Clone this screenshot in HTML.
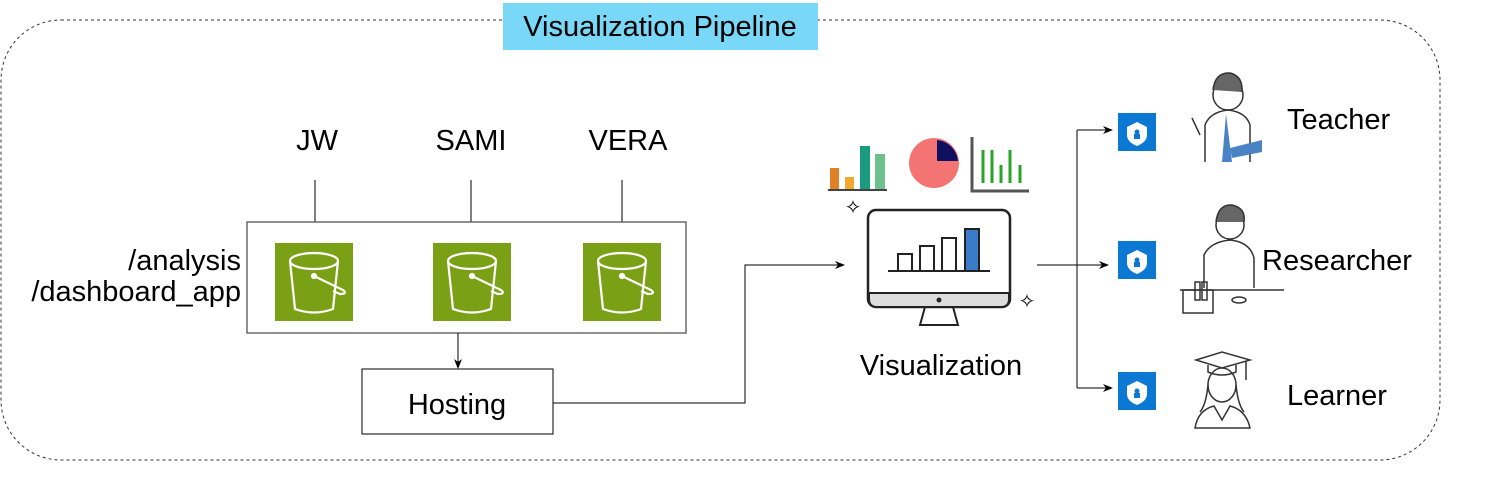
<!DOCTYPE html>
<html><head><meta charset="utf-8"><style>
body{margin:0;width:1506px;height:488px;background:#fff;overflow:hidden;font-family:"Liberation Sans",sans-serif}
</style></head><body>
<svg width="1506" height="488" viewBox="0 0 1506 488" xmlns="http://www.w3.org/2000/svg" font-family="Liberation Sans, sans-serif">
<defs><marker id="a" markerWidth="10" markerHeight="8" refX="9" refY="4" orient="auto" markerUnits="userSpaceOnUse"><path d="M0,0 L10,4 L0,8 L3,4Z" fill="#000"/></marker></defs>
<rect x="1" y="20" width="1439" height="440" rx="60" fill="none" stroke="#333" stroke-dasharray="3,3"/>
<rect x="503" y="3" width="315" height="47" fill="#79d8f8"/>
<text x="660" y="36" font-size="29" text-anchor="middle">Visualization Pipeline</text>
<g font-size="29" text-anchor="middle"><text x="317" y="150">JW</text><text x="471" y="150">SAMI</text><text x="628" y="150">VERA</text></g>
<g stroke="#000" fill="none"><line x1="315" y1="180" x2="315" y2="222"/><line x1="471" y1="180" x2="471" y2="222"/><line x1="622" y1="180" x2="622" y2="222"/></g>
<rect x="247" y="222" width="439" height="111" fill="#fff" stroke="#555" stroke-width="1.3"/>
<g font-size="29" text-anchor="end"><text x="241" y="270">/analysis</text><text x="241" y="301">/dashboard_app</text></g>
<g id="b"><rect x="275" y="243" width="78" height="78" fill="#7aa116"/><g stroke="#fff" stroke-width="2.2" fill="none"><ellipse cx="314" cy="261" rx="24" ry="8"/><path d="M290 261 L295 309 Q314 316 333 309 L338 261"/><path d="M314 276 L343 290 Q348 294 340 294 L333 291"/><circle cx="314" cy="276" r="2" fill="#fff"/></g></g>
<use href="#b" x="158"/><use href="#b" x="308"/>
<line x1="458" y1="333" x2="458" y2="368" stroke="#000" marker-end="url(#a)"/>
<rect x="362" y="369" width="191" height="65" fill="#fff" stroke="#000"/>
<text x="457" y="414" font-size="29" text-anchor="middle">Hosting</text>
<path d="M553 403 H745 V265 H844" fill="none" stroke="#000" marker-end="url(#a)"/>
<rect x="830" y="168" width="9" height="22" fill="#e0812a"/><rect x="845" y="177" width="9" height="13" fill="#f0a82e"/><rect x="860" y="146" width="10" height="44" fill="#1a9a7f"/><rect x="875" y="154" width="10" height="36" fill="#6ec18c"/><line x1="828" y1="190" x2="887" y2="190" stroke="#444" stroke-width="2"/>
<circle cx="934" cy="163" r="25" fill="#f47473"/><path d="M937 140 A23 23 0 0 1 958 161 L937 161Z" fill="#101060"/>
<path d="M972 137 V191 H1029" fill="none" stroke="#555" stroke-width="3"/>
<g stroke="#2aa52a" stroke-width="3"><line x1="983" y1="150" x2="983" y2="183"/><line x1="992" y1="150" x2="992" y2="183"/><line x1="1001" y1="165" x2="1001" y2="183"/><line x1="1010" y1="150" x2="1010" y2="183"/><line x1="1020" y1="165" x2="1020" y2="183"/></g>
<text x="853" y="214" font-size="20" text-anchor="middle">✧</text><text x="1027" y="308" font-size="20" text-anchor="middle">✧</text>
<rect x="868" y="210" width="142" height="97" rx="8" fill="#fff" stroke="#222" stroke-width="2.5"/>
<path d="M869 293 H1009 V299 Q1009 307 1001 307 H877 Q869 307 869 299Z" fill="#ddd" stroke="#222" stroke-width="2"/>
<circle cx="939" cy="300" r="2.5" fill="#222"/>
<path d="M925 307 L920 325 H958 L953 307" fill="none" stroke="#222" stroke-width="2"/>
<g fill="#fff" stroke="#222" stroke-width="2"><rect x="898" y="254" width="14" height="17"/><rect x="920" y="246" width="14" height="25"/><rect x="942" y="238" width="14" height="33"/><rect x="965" y="229" width="14" height="42" fill="#3a7cc8"/></g>
<line x1="888" y1="271" x2="990" y2="271" stroke="#222" stroke-width="2"/>
<text x="941" y="375" font-size="29" text-anchor="middle">Visualization</text>
<path d="M1037 265 H1077" stroke="#000"/><path d="M1077 130 V388" stroke="#000"/>
<g stroke="#000" fill="none"><line x1="1077" y1="130" x2="1112" y2="130" marker-end="url(#a)"/><line x1="1077" y1="265" x2="1108" y2="265" marker-end="url(#a)"/><line x1="1077" y1="388" x2="1112" y2="388" marker-end="url(#a)"/></g>
<g id="l"><rect x="1118" y="113" width="38" height="38" fill="#0b78d4"/><path d="M1137 122 L1147 127 V135 Q1147 142 1137 146 Q1127 142 1127 135 V127Z" fill="#fff"/><circle cx="1137" cy="132" r="2.5" fill="#0b78d4"/><rect x="1134" y="134" width="6" height="5" fill="#0b78d4"/></g>
<use href="#l" y="128"/><use href="#l" y="259"/>
<g fill="none" stroke="#333" stroke-width="1.5">
<circle cx="1228" cy="95" r="15" fill="#fff"/><path d="M1213 90 Q1215 72 1230 73 Q1243 76 1242 92" fill="#666"/>
<path d="M1205 162 V125 Q1210 112 1228 110 Q1246 112 1250 125 V162"/><path d="M1200 135 L1192 118"/>
</g>
<path d="M1226 114 L1222 162 H1232 Z" fill="#4a83c4"/><path d="M1230 148 L1262 140 L1262 152 L1232 158Z" fill="#4a83c4"/>
<g fill="none" stroke="#333" stroke-width="1.5">
<circle cx="1230" cy="225" r="14" fill="#fff"/><path d="M1216 222 Q1218 204 1232 205 Q1246 208 1244 222" fill="#666"/>
<path d="M1204 288 V255 Q1210 242 1230 240 Q1250 242 1254 258 V288"/><line x1="1180" y1="290" x2="1284" y2="290"/>
<rect x="1183" y="290" width="30" height="23"/><rect x="1195" y="282" width="5" height="18"/><rect x="1202" y="282" width="5" height="18"/><ellipse cx="1239" cy="300" rx="7" ry="3"/>
<path d="M1196 360 L1222 352 L1250 360 L1222 368 Z" fill="#fff"/><path d="M1208 365 V372 Q1222 378 1236 372 V365"/><line x1="1246" y1="361" x2="1246" y2="380"/>
<ellipse cx="1222" cy="385" rx="14" ry="17"/><path d="M1208 385 Q1206 405 1200 412 M1236 385 Q1238 405 1244 412"/>
<path d="M1195 428 Q1198 410 1214 406 L1222 420 L1230 406 Q1246 410 1250 428 Z"/>
</g>
<g font-size="29"><text x="1287" y="129">Teacher</text><text x="1262" y="270">Researcher</text><text x="1287" y="405">Learner</text></g>
</svg>
</body></html>
